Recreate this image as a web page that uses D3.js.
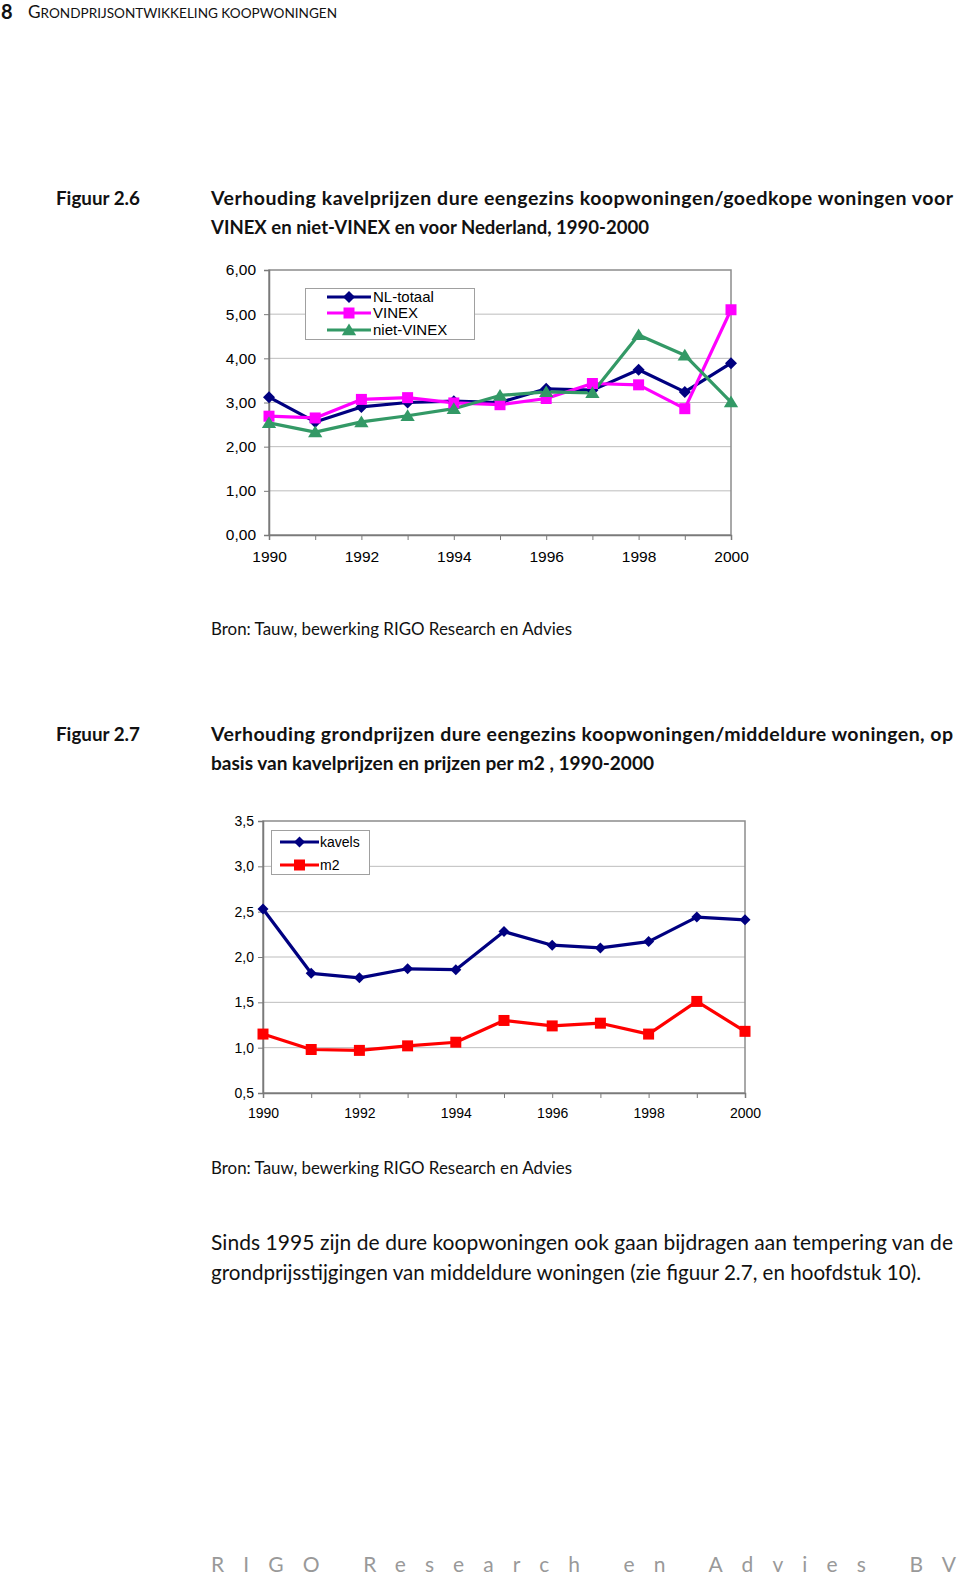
<!DOCTYPE html>
<html><head><meta charset="utf-8">
<script src="https://cdn.jsdelivr.net/npm/d3@7/dist/d3.min.js"></script>
<style>
html,body{margin:0;padding:0;background:#fff;}
svg{display:block;}
</style></head>
<body>
<svg id="page" width="960" height="1575"></svg>
<script>
// ---- data ----
const years = [1990,1991,1992,1993,1994,1995,1996,1997,1998,1999,2000];
const nlTotaal  = [3.12,2.56,2.90,3.00,3.03,3.00,3.31,3.28,3.74,3.24,3.89];
const vinex     = [2.69,2.65,3.07,3.11,2.99,2.95,3.09,3.43,3.40,2.86,5.10];
const nietVinex = [2.54,2.33,2.56,2.70,2.86,3.16,3.24,3.22,4.53,4.07,3.01];
const kavels    = [2.53,1.82,1.77,1.87,1.86,2.28,2.13,2.10,2.17,2.44,2.41];
const m2        = [1.15,0.98,0.97,1.02,1.06,1.30,1.24,1.27,1.15,1.51,1.18];
const yTicks1 = [0,1,2,3,4,5,6];
const yTicks2 = [0.5,1,1.5,2,2.5,3,3.5];
const xTickLabels = [1990,1992,1994,1996,1998,2000];
const series1Names = ["NL-totaal","VINEX","niet-VINEX"];
const series2Names = ["kavels","m2"];

const nl = d3.formatLocale({decimal:",",thousands:".",grouping:[3],currency:["€",""]});
const svg = d3.select("#page");

// ---- page text ----
const serif = "Lato, 'Open Sans', sans-serif";
function textLine(x, y, str, opts) {
  const t = svg.append("text").attr("x", x).attr("y", y).text(str)
    .attr("font-family", opts.family || serif)
    .attr("font-size", opts.size)
    .attr("font-weight", opts.weight || "normal")
    .attr("fill", opts.fill || "#111");
  if (opts.len) t.attr("textLength", opts.len).attr("lengthAdjust", opts.adjust || "spacingAndGlyphs");
  if (opts.ls) t.attr("letter-spacing", opts.ls);
  return t;
}
// header
textLine(1, 19, "8", {size: 20, weight: "bold", fill:"#111"});
const hdr = svg.append("text").attr("x", 28).attr("y", 18)
  .attr("font-family", serif).attr("fill", "#111")
  .attr("textLength", 309).attr("lengthAdjust", "spacingAndGlyphs");
hdr.append("tspan").attr("font-size", 16.5).text("G");
hdr.append("tspan").attr("font-size", 13).text("RONDPRIJSONTWIKKELING KOOPWONINGEN");

// Figure captions
textLine(56, 205, "Figuur 2.6", {size: 19.5, weight: "bold", len: 84});
textLine(211, 205, "Verhouding kavelprijzen dure eengezins koopwoningen/goedkope woningen voor", {size: 19.5, weight: "bold", len: 742, adjust:"spacing"});
textLine(211, 234, "VINEX en niet-VINEX en voor Nederland, 1990-2000", {size: 19.5, weight: "bold", len: 438});
textLine(211, 635, "Bron: Tauw, bewerking RIGO Research en Advies", {size: 17, len: 361});

textLine(56, 741, "Figuur 2.7", {size: 19.5, weight: "bold", len: 84});
textLine(211, 741, "Verhouding grondprijzen dure eengezins koopwoningen/middeldure woningen, op", {size: 19.5, weight: "bold", len: 742, adjust:"spacing"});
textLine(211, 770, "basis van kavelprijzen en prijzen per m2 , 1990-2000", {size: 19.5, weight: "bold", len: 443});
textLine(211, 1174, "Bron: Tauw, bewerking RIGO Research en Advies", {size: 17, len: 361});

textLine(211, 1250, "Sinds 1995 zijn de dure koopwoningen ook gaan bijdragen aan tempering van de", {size: 21, len: 742, adjust:"spacing"});
textLine(211, 1280, "grondprijsstijgingen van middeldure woningen (zie figuur 2.7, en hoofdstuk 10).", {size: 21, len: 710});

textLine(211, 1572, "RIGO Research en Advies BV", {size: 21, len: 745, adjust:"spacing", fill:"#999"});

// ---- chart helpers ----
function diamond(s){ return `M0,${-s}L${s},0L0,${s}L${-s},0Z`; }
function square(s){ return `M${-s},${-s}H${s}V${s}H${-s}Z`; }
function triangle(s){ return `M0,${-s}L${s*1.1},${s*0.8}L${-s*1.1},${s*0.8}Z`; }

function drawChart(cfg) {
  const g = svg.append("g");
  const x = d3.scaleLinear().domain([1990,2000]).range([cfg.left, cfg.right]);
  const y = d3.scaleLinear().domain(cfg.yDomain).range([cfg.bottom, cfg.top]);
  g.append("rect").attr("x", cfg.left).attr("y", cfg.top)
    .attr("width", cfg.right-cfg.left).attr("height", cfg.bottom-cfg.top)
    .attr("fill", "#fff");
  g.selectAll("line.grid").data(cfg.yTicks.slice(1, -1)).join("line")
    .attr("x1", cfg.left).attr("x2", cfg.right)
    .attr("y1", d => y(d)).attr("y2", d => y(d))
    .attr("stroke", "#bdbdbd").attr("stroke-width", 1);
  g.append("rect").attr("x", cfg.left).attr("y", cfg.top)
    .attr("width", cfg.right-cfg.left).attr("height", cfg.bottom-cfg.top)
    .attr("fill", "none").attr("stroke", "#8c8c8c").attr("stroke-width", 1.5);
  const ya = g.append("g").attr("transform", `translate(${cfg.left},0)`)
    .call(d3.axisLeft(y).tickValues(cfg.yTicks).tickFormat(nl.format(cfg.fmt)).tickSize(5).tickPadding(cfg.yPad));
  ya.select(".domain").attr("stroke", "#7a7a7a").attr("stroke-width", 1.5);
  ya.selectAll(".tick line").attr("stroke", "#7a7a7a");
  ya.selectAll("text").attr("font-family", "'Liberation Sans', Arial, sans-serif").attr("font-size", cfg.fs).attr("fill", "#000");
  const xa = g.append("g").attr("transform", `translate(0,${cfg.bottom})`)
    .call(d3.axisBottom(x).tickValues(years).tickFormat(d => xTickLabels.includes(d) ? String(d) : "").tickSize(5).tickPadding(cfg.xPad));
  xa.select(".domain").attr("stroke", "#7a7a7a").attr("stroke-width", 1.5);
  xa.selectAll(".tick line").attr("stroke", "#7a7a7a");
  xa.selectAll("text").attr("font-family", "'Liberation Sans', Arial, sans-serif").attr("font-size", cfg.fs).attr("fill", "#000");

  const line = d3.line().x((d,i) => x(years[i])).y(d => y(d));
  cfg.series.forEach(s => {
    g.append("path").datum(s.values).attr("d", line)
      .attr("fill", "none").attr("stroke", s.color).attr("stroke-width", 3.2).attr("stroke-linejoin", "round");
  });
  cfg.series.forEach(s => {
    g.selectAll(null).data(s.values).join("path")
      .attr("transform", (d,i) => `translate(${x(years[i])},${y(d)})`)
      .attr("d", s.shape(s.size)).attr("fill", s.color);
  });
  const L = cfg.legend;
  g.append("rect").attr("x", L.x).attr("y", L.y).attr("width", L.w).attr("height", L.h)
    .attr("fill", "#fff").attr("stroke", "#a0a0a0").attr("stroke-width", 1);
  cfg.series.forEach((s, i) => {
    const yy = L.rows[i];
    g.append("line").attr("x1", L.lx1).attr("x2", L.lx2).attr("y1", yy).attr("y2", yy)
      .attr("stroke", s.color).attr("stroke-width", 3.2);
    g.append("path").attr("transform", `translate(${(L.lx1+L.lx2)/2},${yy})`)
      .attr("d", s.shape(s.size)).attr("fill", s.color);
    g.append("text").attr("x", L.tx).attr("y", yy).attr("dy", "0.36em")
      .attr("font-family", "'Liberation Sans', Arial, sans-serif").attr("font-size", cfg.lfs)
      .attr("fill", "#000").text(s.name);
  });
}

drawChart({
  left: 269, right: 731, top: 270, bottom: 535,
  yDomain: [0, 6], yTicks: yTicks1, fmt: ".2f", fs: 15.5, lfs: 15, yPad: 8, xPad: 11,
  series: [
    {name: series1Names[0], values: nlTotaal, color: "#000080", shape: diamond, size: 6},
    {name: series1Names[1], values: vinex, color: "#ff00ff", shape: square, size: 5.5},
    {name: series1Names[2], values: nietVinex, color: "#339966", shape: triangle, size: 6.5}
  ],
  legend: {x: 305.5, y: 288.5, w: 169, h: 51, rows: [297, 313, 330], lx1: 327, lx2: 371, tx: 373}
});

drawChart({
  left: 263, right: 745, top: 821, bottom: 1093,
  yDomain: [0.5, 3.5], yTicks: yTicks2, fmt: ".1f", fs: 14, lfs: 14, yPad: 4, xPad: 10,
  series: [
    {name: series2Names[0], values: kavels, color: "#000080", shape: diamond, size: 5.5},
    {name: series2Names[1], values: m2, color: "#ff0000", shape: square, size: 5.5}
  ],
  legend: {x: 271.5, y: 830.5, w: 98, h: 44, rows: [842, 865], lx1: 280, lx2: 319, tx: 320}
});
</script>
</body></html>
